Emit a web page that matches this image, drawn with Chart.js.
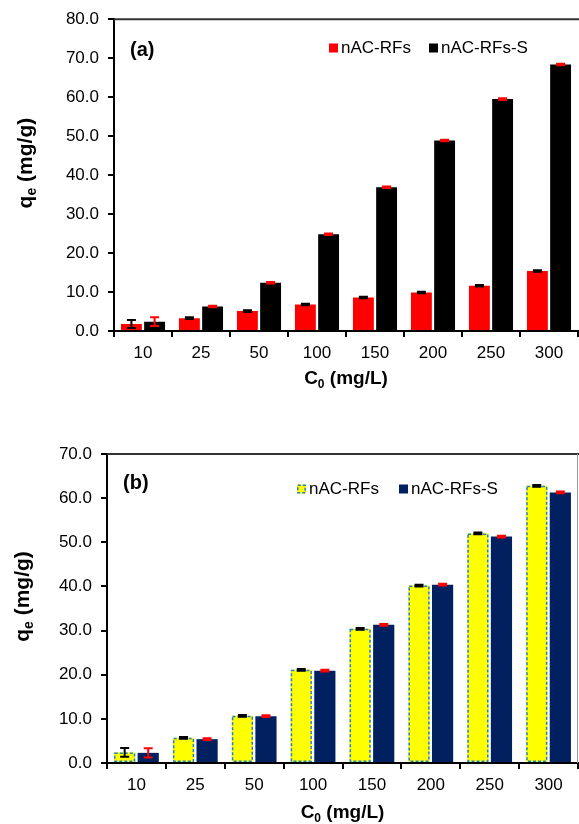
<!DOCTYPE html>
<html>
<head>
<meta charset="utf-8">
<script src="https://cdn.jsdelivr.net/npm/chart.js@4.4.1/dist/chart.umd.min.js"></script>
<style>
  html, body { margin: 0; padding: 0; background: #fff; }
  #wrap { position: relative; width: 579px; height: 824px; }
  canvas { position: absolute; left: 0; }
  #chartA { top: 0; }
  #chartB { top: 410px; }
</style>
</head>
<body>
<div id="wrap">
  <canvas id="chartA" width="579" height="410"></canvas>
  <canvas id="chartB" width="579" height="414"></canvas>
</div>
<script>
// initial concentrations (x categories)
const concentrations = ['10', '25', '50', '100', '150', '200', '250', '300']

// panel (a)
const rfsA = [1.8, 3.3, 5.1, 6.8, 8.6, 9.9, 11.6, 15.4]
const rfsErrA = [1.05, 0.2, 0.2, 0.2, 0.2, 0.2, 0.2, 0.2]
const rfsSA = [2.4, 6.3, 12.4, 24.8, 36.9, 48.9, 59.5, 68.4]
const rfsSErrA = [1.1, 0.2, 0.2, 0.2, 0.2, 0.2, 0.2, 0.2]

// panel (b)
const rfsB = [2.4, 5.7, 10.7, 21.1, 30.4, 40.2, 52.0, 62.8]
const rfsErrB = [1.0, 0.2, 0.2, 0.2, 0.2, 0.2, 0.2, 0.2]
const rfsSB = [2.3, 5.4, 10.6, 20.9, 31.3, 40.4, 51.3, 61.3]
const rfsSErrB = [1.05, 0.2, 0.2, 0.2, 0.2, 0.2, 0.2, 0.2]

const yMaxA = 80
const yMaxB = 70
const yStep = 10

const FONT = "'Liberation Sans', Arial, sans-serif"

// draws text with subscript parts, centered at (0,0) of current transform
function drawRich (ctx, parts, size) {
  const subSize = Math.round(size * 0.65)
  let total = 0
  parts.forEach(p => {
    ctx.font = 'bold ' + (p.sub ? subSize : size) + 'px ' + FONT
    p.w = ctx.measureText(p.t).width
    total += p.w
  })
  let x = -total / 2
  ctx.textBaseline = 'middle'
  ctx.textAlign = 'left'
  parts.forEach(p => {
    ctx.font = 'bold ' + (p.sub ? subSize : size) + 'px ' + FONT
    ctx.fillText(p.t, x, p.sub ? size * 0.3 : 0)
    x += p.w
  })
}

const decorPlugin = {
  id: 'decor',
  afterDatasetsDraw (chart, args, opts) {
    const ctx = chart.ctx
    const area = chart.chartArea
    const yScale = chart.scales.y
    ctx.save()

    // dashed outline on bars that ask for it
    chart.data.datasets.forEach((ds, i) => {
      if (!ds.dashColor) return
      chart.getDatasetMeta(i).data.forEach(bar => {
        ctx.strokeStyle = ds.dashColor
        ctx.lineWidth = 1.5
        ctx.setLineDash([3, 2])
        ctx.strokeRect(bar.x - bar.width / 2 + 0.75, bar.y + 0.75, bar.width - 1.5, bar.base - bar.y - 1.5)
      })
    })
    ctx.setLineDash([])

    // error bars
    chart.data.datasets.forEach((ds, i) => {
      chart.getDatasetMeta(i).data.forEach((bar, j) => {
        const v = ds.data[j]
        const e = ds.errors[j]
        const top = yScale.getPixelForValue(v + e)
        const bot = yScale.getPixelForValue(Math.max(0, v - e))
        ctx.strokeStyle = ds.errorColor
        ctx.lineWidth = 2
        ctx.beginPath()
        ctx.moveTo(bar.x, top); ctx.lineTo(bar.x, bot)
        ctx.moveTo(bar.x - 4.5, top); ctx.lineTo(bar.x + 4.5, top)
        ctx.moveTo(bar.x - 4.5, bot); ctx.lineTo(bar.x + 4.5, bot)
        ctx.stroke()
      })
    })

    // frame: top line and optional right line
    ctx.strokeStyle = '#333'
    ctx.lineWidth = 2
    ctx.beginPath()
    ctx.moveTo(area.left, area.top); ctx.lineTo(chart.width, area.top)
    ctx.stroke()
    if (opts.rightBorder) {
      ctx.strokeStyle = '#999'
      ctx.lineWidth = 1
      ctx.beginPath()
      ctx.moveTo(area.right - 0.5, area.top); ctx.lineTo(area.right - 0.5, area.bottom)
      ctx.stroke()
    }

    // panel label
    ctx.fillStyle = '#000'
    ctx.font = 'bold 20px ' + FONT
    ctx.textBaseline = 'middle'
    ctx.textAlign = 'left'
    ctx.fillText(opts.label, opts.labelX, opts.labelY)

    // legend
    ctx.font = '17px ' + FONT
    chart.data.datasets.forEach((ds, i) => {
      const lx = opts.legendX[i]
      const ly = opts.legendY
      ctx.fillStyle = ds.backgroundColor
      ctx.fillRect(lx, ly - 4.5, 9, 9)
      if (ds.dashColor) {
        ctx.strokeStyle = ds.dashColor
        ctx.lineWidth = 1.5
        ctx.setLineDash([3, 2])
        ctx.strokeRect(lx + 0.75, ly - 3.75, 7.5, 7.5)
        ctx.setLineDash([])
      }
      ctx.fillStyle = '#000'
      ctx.fillText(ds.label, lx + 12, ly)
    })

    // axis titles
    ctx.save()
    ctx.translate(opts.yTitleX, (area.top + area.bottom) / 2 - 12)
    ctx.rotate(-Math.PI / 2)
    drawRich(ctx, [{ t: 'q' }, { t: 'e', sub: true }, { t: ' (mg/g)' }], 21)
    ctx.restore()
    ctx.save()
    ctx.translate((area.left + area.right) / 2, opts.xTitleY)
    drawRich(ctx, [{ t: 'C' }, { t: '0', sub: true }, { t: ' (mg/L)' }], 19)
    ctx.restore()

    ctx.restore()
  }
}

function makeChart (canvas, datasets, yMax, box, deco) {
  return new Chart(canvas, {
    type: 'bar',
    data: { labels: concentrations, datasets },
    options: {
      responsive: false,
      animation: false,
      devicePixelRatio: 1,
      layout: { padding: { left: 0, top: box.top, right: canvas.width - box.right, bottom: 0 } },
      plugins: { legend: { display: false }, tooltip: { enabled: false }, decor: deco },
      scales: {
        x: {
          categoryPercentage: 0.58,
          barPercentage: 1,
          afterFit: s => { s.height = canvas.height - box.bottom },
          grid: { display: true, drawOnChartArea: false, tickLength: 6, color: '#000', lineWidth: 2, offset: true },
          border: { display: true, color: '#000', width: 2 },
          ticks: { color: '#000', font: { family: FONT, size: 17 }, padding: 6, maxRotation: 0 }
        },
        y: {
          min: 0,
          max: yMax,
          afterFit: s => { s.width = box.left },
          grid: { display: true, drawOnChartArea: false, tickLength: 6, color: '#000', lineWidth: 2 },
          border: { display: true, color: '#000', width: 2 },
          ticks: { stepSize: yStep, color: '#000', font: { family: FONT, size: 17 }, padding: 9, callback: v => v.toFixed(1) }
        }
      }
    },
    plugins: [decorPlugin]
  })
}

makeChart(document.getElementById('chartA'), [
  { label: 'nAC-RFs', data: rfsA, errors: rfsErrA, backgroundColor: '#ff0000', errorColor: '#000000', borderWidth: 0 },
  { label: 'nAC-RFs-S', data: rfsSA, errors: rfsSErrA, backgroundColor: '#000000', errorColor: '#ff0000', borderWidth: 0 }
], yMaxA, { left: 114, top: 15, right: 578, bottom: 331 }, {
  label: '(a)', labelX: 130, labelY: 50, legendX: [329, 429], legendY: 48,
  yTitleX: 26, xTitleY: 379, rightBorder: false
})

makeChart(document.getElementById('chartB'), [
  { label: 'nAC-RFs', data: rfsB, errors: rfsErrB, backgroundColor: '#ffff00', dashColor: '#1f7fd0', errorColor: '#000000', borderWidth: 0 },
  { label: 'nAC-RFs-S', data: rfsSB, errors: rfsSErrB, backgroundColor: '#002060', errorColor: '#ff0000', borderWidth: 0 }
], yMaxB, { left: 107, top: 44, right: 578, bottom: 353 }, {
  label: '(b)', labelX: 123, labelY: 73, legendX: [297, 399], legendY: 79,
  yTitleX: 23, xTitleY: 403, rightBorder: true
})
</script>
</body>
</html>
